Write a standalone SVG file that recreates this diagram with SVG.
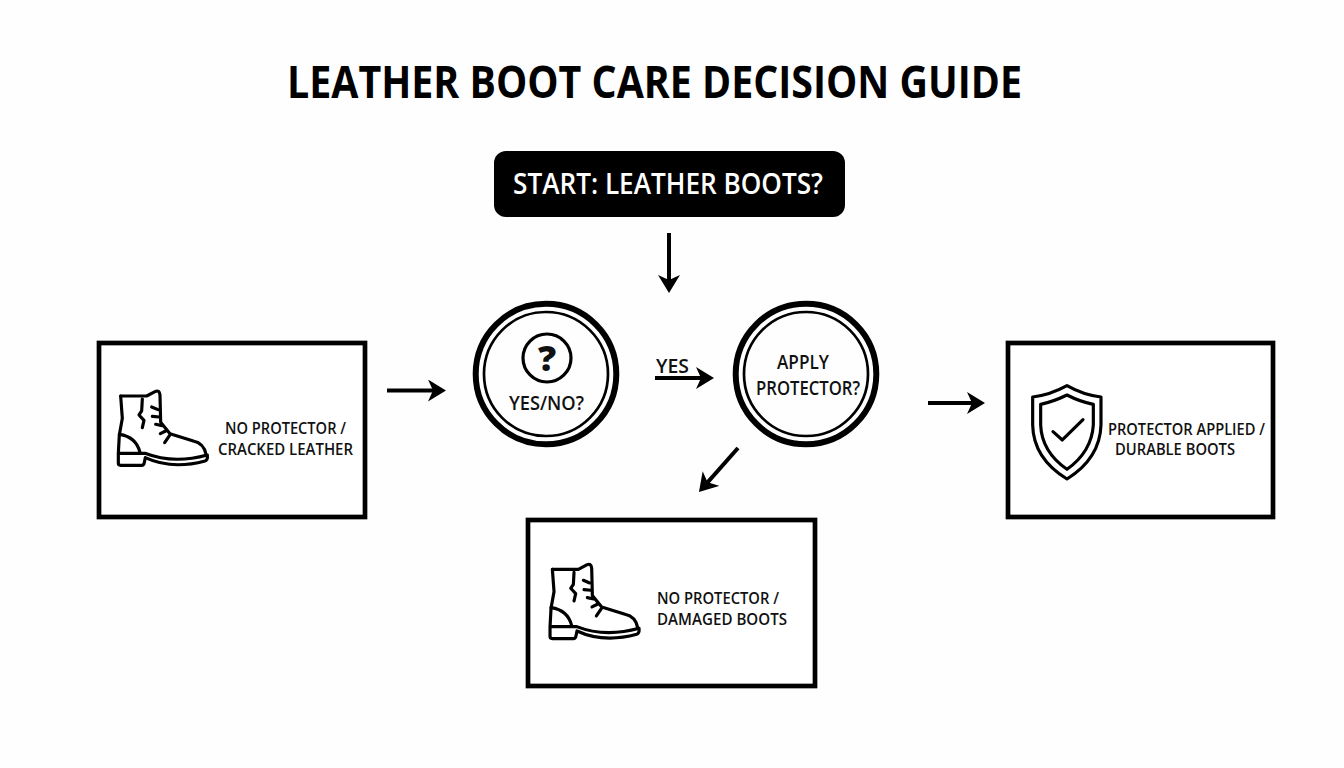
<svg xmlns="http://www.w3.org/2000/svg" width="1344" height="768" viewBox="0 0 1344 768">
<style>
text{font-family:"Open Sans","Noto Sans","Liberation Sans",sans-serif;fill:#111;font-weight:600}
.title{font-size:44px;font-weight:700;fill:#000}
.start{font-size:28px;fill:#fff}
.lbl{font-size:15.5px}
.cl{font-size:19.5px}
.box{fill:#fff;stroke:#000;stroke-width:4.7}
.o{fill:none;stroke:#000;stroke-width:6}
.i{fill:none;stroke:#000;stroke-width:2.7}
.ic{fill:none;stroke:#000;stroke-width:9.5;stroke-linecap:round;stroke-linejoin:round}
.ar{fill:none;stroke:#000;stroke-width:4}
</style>
<defs>
<marker id="h" markerUnits="userSpaceOnUse" markerWidth="20" markerHeight="24" refX="11" refY="11" orient="auto"><path d="M0 0L18 11L0 22L5 11Z" fill="#000"/></marker>
<g id="boot" class="ic">
<path d="M92 183H170L195 170Q208 163 210 180L212 262L240 296L310 318Q342 325 348 358"/>
<path d="M92 183L97 250L88 300L85 355V385Q85 391 92 391H155Q162 391 163 382L166 368Q245 405 345 378Q354 375 352 360Q250 388 165 355H85"/>
<path d="M88 298Q138 305 150 352"/>
<path d="M157 192L155 228L147 240L162 256L157 278"/>
<path d="M185 216L204 224M187 244L208 246M197 268L216 272M211 296L227 288M224 323L239 301"/>
</g>
</defs>
<rect width="1344" height="768" fill="#fefefe"/>
<text class="title" x="287" y="98" textLength="735" lengthAdjust="spacingAndGlyphs">LEATHER BOOT CARE DECISION GUIDE</text>
<g id="connectors">
<path class="ar" d="M669 233V286" marker-end="url(#h)"/>
<path class="ar" d="M387 390.500H439" stroke-width="4.500" marker-end="url(#h)"/>
<path class="ar" d="M655 378H707" marker-end="url(#h)"/>
<path class="ar" d="M928 403H978" marker-end="url(#h)"/>
<path class="ar" d="M738 448L703.600 486.800" marker-end="url(#h)"/>
<text class="cl" x="656" y="373" textLength="33" lengthAdjust="spacingAndGlyphs">YES</text>
</g>
<g id="start"><rect x="494" y="151" width="351" height="66" rx="12" fill="#000"/>
<text class="start" x="513" y="194" textLength="310" lengthAdjust="spacingAndGlyphs">START: LEATHER BOOTS?</text></g>
<g id="decision-yes-no"><circle class="o" cx="546" cy="374" r="70.300"/><circle class="i" cx="546" cy="374" r="62"/>
<circle cx="547" cy="358" r="24" fill="none" stroke="#000" stroke-width="3.200"/>
<text x="547" y="371" text-anchor="middle" style="font-size:36px;font-weight:800">?</text>
<text class="cl" x="509" y="410" textLength="75" lengthAdjust="spacingAndGlyphs">YES/NO?</text></g>
<g id="decision-apply"><circle class="o" cx="806" cy="374" r="70.300"/><circle class="i" cx="806" cy="374" r="62"/>
<text class="cl" x="777" y="369" textLength="52" lengthAdjust="spacingAndGlyphs">APPLY</text>
<text class="cl" x="756" y="395" textLength="104" lengthAdjust="spacingAndGlyphs">PROTECTOR?</text></g>
<g id="cracked"><rect class="box" x="99" y="343" width="266" height="174"/>
<use href="#boot" transform="translate(90 335) scale(.3333)"/>
<text class="lbl" x="225" y="434" textLength="121" lengthAdjust="spacingAndGlyphs">NO PROTECTOR /</text>
<text class="lbl" x="218" y="455" textLength="135" lengthAdjust="spacingAndGlyphs">CRACKED LEATHER</text></g>
<g id="durable"><rect class="box" x="1008" y="343" width="265" height="174"/>
<g class="ic" transform="translate(1000 335) scale(.3333)">
<path d="M201 152Q250 180 303 186V270Q300 370 201 432Q100 370 98 270V186Q150 180 201 152Z"/>
<path d="M201 180Q240 200 280 208V270Q275 350 201 403Q125 350 122 270V208Q160 200 201 180Z"/>
<path d="M159 290L187 315L249 254"/></g>
<text class="lbl" x="1108" y="435" textLength="157" lengthAdjust="spacingAndGlyphs">PROTECTOR APPLIED /</text>
<text class="lbl" x="1115" y="455" textLength="120" lengthAdjust="spacingAndGlyphs">DURABLE BOOTS</text></g>
<g id="damaged"><rect class="box" x="528" y="520" width="287" height="166"/>
<use href="#boot" transform="translate(521.7 508.3) scale(.3333)"/>
<text class="lbl" x="657" y="604" textLength="122" lengthAdjust="spacingAndGlyphs">NO PROTECTOR /</text>
<text class="lbl" x="657" y="625" textLength="130" lengthAdjust="spacingAndGlyphs">DAMAGED BOOTS</text></g>
</svg>
